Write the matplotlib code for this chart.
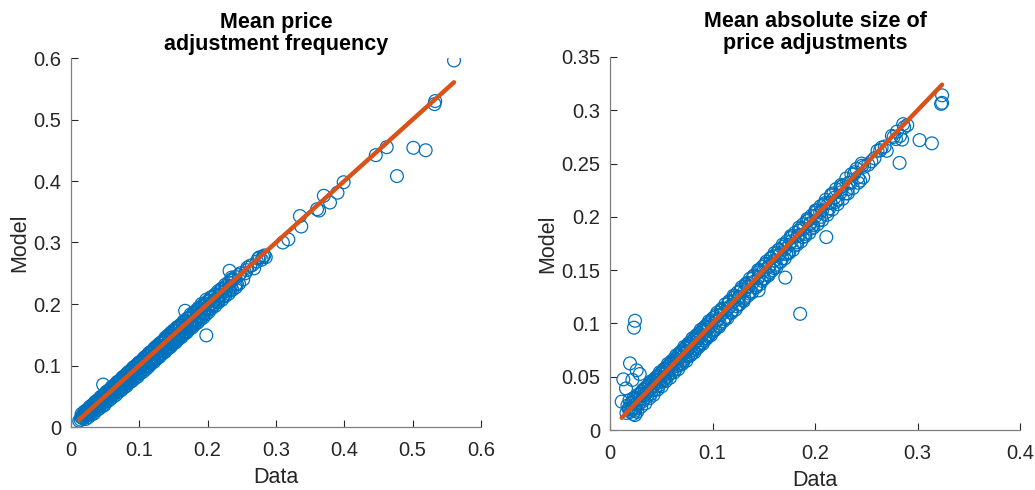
import matplotlib.pyplot as plt
import numpy as np

plt.rcParams['font.family'] = ['Liberation Sans', 'DejaVu Sans']

# Panel 1: mean price adjustment frequency (data, model)
freq_data = [0.012, 0.015, 0.018, 0.020, 0.022, 0.024, 0.026, 0.028, 0.030, 0.032, 0.034, 0.036,
             0.038, 0.040, 0.042, 0.044, 0.046, 0.048, 0.050, 0.052, 0.054, 0.056, 0.058, 0.060,
             0.062, 0.064, 0.066, 0.068, 0.070, 0.072, 0.074, 0.076, 0.078, 0.080, 0.082, 0.084,
             0.086, 0.088, 0.090, 0.092, 0.094, 0.096, 0.098, 0.100, 0.102, 0.104, 0.106, 0.108,
             0.110, 0.112, 0.114, 0.116, 0.118, 0.120, 0.122, 0.124, 0.126, 0.128, 0.130, 0.132,
             0.134, 0.136, 0.138, 0.140, 0.142, 0.144, 0.146, 0.148, 0.150, 0.152, 0.155, 0.157,
             0.160, 0.162, 0.165, 0.167, 0.170, 0.172, 0.175, 0.178, 0.180, 0.183, 0.186, 0.189,
             0.192, 0.195, 0.198, 0.201, 0.205, 0.208, 0.212, 0.216, 0.220, 0.224, 0.228, 0.233,
             0.238, 0.243, 0.248, 0.262, 0.268, 0.279, 0.285,
             0.025, 0.035, 0.045, 0.055, 0.065, 0.075, 0.085, 0.095, 0.105, 0.115, 0.125, 0.135,
             0.145, 0.155, 0.165, 0.175, 0.185, 0.195, 0.210, 0.225,
             0.5605, 0.501, 0.519, 0.477, 0.446, 0.462, 0.533, 0.532, 0.390, 0.399, 0.379, 0.370,
             0.360, 0.363, 0.335, 0.337, 0.310, 0.318, 0.274, 0.281, 0.232, 0.235, 0.252, 0.257,
             0.198, 0.167, 0.191, 0.047]
freq_model = [0.010, 0.016, 0.014, 0.022, 0.019, 0.027, 0.022, 0.030, 0.026, 0.036, 0.029, 0.040,
              0.033, 0.044, 0.036, 0.047, 0.039, 0.035, 0.052, 0.045, 0.058, 0.049, 0.061, 0.052,
              0.065, 0.056, 0.070, 0.059, 0.073, 0.063, 0.078, 0.066, 0.082, 0.070, 0.086, 0.074,
              0.090, 0.078, 0.095, 0.081, 0.099, 0.085, 0.103, 0.089, 0.106, 0.093, 0.111, 0.097,
              0.115, 0.100, 0.120, 0.104, 0.123, 0.108, 0.128, 0.112, 0.132, 0.116, 0.136, 0.119,
              0.139, 0.123, 0.145, 0.127, 0.149, 0.131, 0.153, 0.135, 0.157, 0.139, 0.162, 0.144,
              0.166, 0.149, 0.172, 0.154, 0.176, 0.160, 0.183, 0.165, 0.187, 0.172, 0.193, 0.178,
              0.197, 0.185, 0.207, 0.192, 0.211, 0.199, 0.216, 0.206, 0.224, 0.214, 0.230, 0.222,
              0.240, 0.232, 0.250, 0.262, 0.258, 0.272, 0.276,
              0.025, 0.034, 0.043, 0.054, 0.063, 0.073, 0.083, 0.093, 0.103, 0.112, 0.122, 0.132,
              0.142, 0.151, 0.161, 0.171, 0.181, 0.191, 0.207, 0.221,
              0.596, 0.454, 0.450, 0.408, 0.442, 0.455, 0.530, 0.525, 0.381, 0.398, 0.365, 0.376,
              0.354, 0.352, 0.343, 0.326, 0.300, 0.305, 0.274, 0.277, 0.254, 0.243, 0.240, 0.255,
              0.149, 0.189, 0.200, 0.069]
freq_data_b = [0.014, 0.017, 0.021, 0.023, 0.027, 0.029, 0.031, 0.033, 0.037, 0.039, 0.041, 0.043,
               0.047, 0.049, 0.051, 0.053, 0.057, 0.059, 0.061, 0.063, 0.067, 0.069, 0.071, 0.073,
               0.077, 0.079, 0.081, 0.083, 0.087, 0.089, 0.091, 0.093, 0.097, 0.099, 0.101, 0.103,
               0.107, 0.109, 0.111, 0.113, 0.117, 0.119, 0.121, 0.123, 0.127, 0.129, 0.131, 0.133,
               0.137, 0.139, 0.141, 0.143, 0.147, 0.149, 0.151, 0.153, 0.156, 0.158, 0.161, 0.163,
               0.166, 0.168, 0.171, 0.173, 0.176, 0.179, 0.182, 0.185, 0.188, 0.191, 0.194, 0.197,
               0.200, 0.203, 0.207, 0.210, 0.214, 0.218, 0.222, 0.226, 0.231, 0.236, 0.241, 0.246,
               0.255, 0.258, 0.265, 0.272, 0.276, 0.283]
freq_model_b = [0.012, 0.019, 0.017, 0.024, 0.021, 0.031, 0.024, 0.033, 0.030, 0.041, 0.034, 0.042,
                0.040, 0.050, 0.043, 0.054, 0.050, 0.059, 0.053, 0.064, 0.060, 0.070, 0.062, 0.074,
                0.069, 0.079, 0.072, 0.084, 0.079, 0.090, 0.082, 0.095, 0.088, 0.100, 0.091, 0.105,
                0.098, 0.111, 0.100, 0.115, 0.107, 0.121, 0.110, 0.125, 0.117, 0.131, 0.120, 0.136,
                0.126, 0.141, 0.129, 0.146, 0.136, 0.151, 0.140, 0.156, 0.145, 0.161, 0.150, 0.166,
                0.155, 0.171, 0.161, 0.176, 0.165, 0.181, 0.171, 0.186, 0.177, 0.192, 0.183, 0.198,
                0.190, 0.205, 0.197, 0.212, 0.204, 0.220, 0.212, 0.227, 0.223, 0.238, 0.232, 0.247,
                0.250, 0.259, 0.263, 0.269, 0.276, 0.279]
freq_data_c = [0.016, 0.019, 0.021, 0.023, 0.027, 0.031, 0.033, 0.037, 0.039, 0.043, 0.047, 0.049,
               0.053, 0.057, 0.059, 0.063, 0.067, 0.069, 0.073, 0.077, 0.079, 0.083, 0.087, 0.089,
               0.093, 0.097, 0.099, 0.103, 0.107, 0.109, 0.113, 0.117, 0.119, 0.123, 0.127, 0.129,
               0.133, 0.137, 0.139, 0.143, 0.147, 0.149, 0.153, 0.157, 0.159, 0.163, 0.167, 0.169,
               0.173, 0.177, 0.181, 0.187, 0.193, 0.199, 0.206, 0.213, 0.219, 0.227, 0.234]
freq_model_c = [0.015, 0.018, 0.021, 0.020, 0.026, 0.029, 0.031, 0.036, 0.036, 0.041, 0.045, 0.046,
                0.050, 0.055, 0.056, 0.060, 0.064, 0.066, 0.069, 0.074, 0.075, 0.079, 0.083, 0.085,
                0.089, 0.093, 0.094, 0.098, 0.102, 0.104, 0.108, 0.112, 0.113, 0.118, 0.122, 0.123,
                0.128, 0.131, 0.133, 0.137, 0.142, 0.143, 0.147, 0.151, 0.152, 0.157, 0.161, 0.163,
                0.167, 0.171, 0.175, 0.181, 0.187, 0.194, 0.201, 0.208, 0.215, 0.222, 0.229]
freq_data_d = [0.0155, 0.0195, 0.0235, 0.0275, 0.0315, 0.0355, 0.0395, 0.0435, 0.0475, 0.0515,
               0.0555, 0.0595, 0.0635, 0.0675, 0.0715, 0.0755, 0.0795, 0.0835, 0.0875, 0.0915,
               0.0955, 0.0995, 0.1035, 0.1075, 0.1115, 0.1155, 0.1195, 0.1235, 0.1275, 0.1315,
               0.1355, 0.1395, 0.1435, 0.1475, 0.1515, 0.1555, 0.1595, 0.1635, 0.1675, 0.1715,
               0.1755, 0.1795, 0.1835, 0.1875, 0.1915, 0.1955, 0.2005, 0.2055, 0.2105, 0.2155,
               0.2205, 0.2255, 0.2305, 0.2355, 0.2405]
freq_model_d = [0.021, 0.025, 0.028, 0.033, 0.036, 0.041, 0.044, 0.049, 0.052, 0.057,
                0.060, 0.065, 0.068, 0.073, 0.076, 0.081, 0.084, 0.089, 0.092, 0.097,
                0.100, 0.105, 0.108, 0.113, 0.116, 0.121, 0.124, 0.129, 0.132, 0.137,
                0.140, 0.145, 0.148, 0.153, 0.156, 0.161, 0.164, 0.169, 0.172, 0.177,
                0.180, 0.185, 0.188, 0.193, 0.196, 0.201, 0.205, 0.211, 0.215, 0.221,
                0.225, 0.231, 0.235, 0.240, 0.244]
freq_data_e = [0.0215, 0.0255, 0.0295, 0.0335, 0.0375, 0.0415, 0.0455, 0.0495, 0.0535, 0.0575,
               0.0615, 0.0655, 0.0695, 0.0735, 0.0775, 0.0815, 0.0855, 0.0895, 0.0935, 0.0975,
               0.1015, 0.1055, 0.1095, 0.1135, 0.1175, 0.1215, 0.1255, 0.1295, 0.1335, 0.1375,
               0.1415, 0.1455, 0.1495, 0.1535, 0.1575, 0.1615, 0.1655, 0.1695, 0.1735, 0.1775,
               0.1815, 0.1855, 0.1895, 0.1935, 0.1975, 0.2015, 0.206, 0.211, 0.216, 0.221,
               0.226, 0.231, 0.236, 0.241, 0.246]
freq_model_e = [0.013, 0.016, 0.020, 0.022, 0.027, 0.030, 0.034, 0.037, 0.042, 0.045,
                0.049, 0.052, 0.057, 0.060, 0.064, 0.067, 0.072, 0.075, 0.079, 0.082,
                0.087, 0.090, 0.094, 0.098, 0.103, 0.106, 0.111, 0.114, 0.119, 0.122,
                0.127, 0.130, 0.135, 0.138, 0.143, 0.146, 0.151, 0.154, 0.159, 0.162,
                0.167, 0.170, 0.175, 0.178, 0.183, 0.187, 0.193, 0.197, 0.203, 0.207,
                0.213, 0.217, 0.223, 0.227, 0.233]

# Panel 2: mean absolute size of price adjustments (data, model)
size_data = [0.018, 0.020, 0.022, 0.024, 0.026, 0.028, 0.030, 0.032, 0.034, 0.036, 0.038, 0.040,
             0.042, 0.044, 0.046, 0.048, 0.050, 0.052, 0.054, 0.056, 0.058, 0.060, 0.062, 0.064,
             0.066, 0.068, 0.070, 0.072, 0.074, 0.076, 0.078, 0.080, 0.082, 0.084, 0.086, 0.088,
             0.090, 0.092, 0.094, 0.096, 0.098, 0.100, 0.103, 0.106, 0.109, 0.112, 0.115, 0.118,
             0.121, 0.124, 0.127, 0.130, 0.133, 0.136, 0.139, 0.142, 0.145, 0.148, 0.151, 0.154,
             0.157, 0.160, 0.163, 0.166, 0.169, 0.172, 0.176, 0.180, 0.184, 0.188, 0.192, 0.196,
             0.200, 0.204, 0.208, 0.212, 0.216, 0.220, 0.225, 0.230, 0.235, 0.248, 0.252, 0.258,
             0.265, 0.270, 0.280, 0.283, 0.287,
             0.025, 0.035, 0.045, 0.055, 0.065, 0.075, 0.085, 0.095, 0.105, 0.115, 0.125, 0.135,
             0.145, 0.155, 0.165, 0.175, 0.185, 0.195, 0.205, 0.215, 0.225,
             0.324, 0.324, 0.323, 0.302, 0.314, 0.2825, 0.285, 0.211, 0.1855, 0.171, 0.145,
             0.0244, 0.0234, 0.0195, 0.013, 0.0218, 0.0156, 0.026, 0.029, 0.0114, 0.0244, 0.0244,
             0.239, 0.244, 0.2636, 0.2767, 0.290]
size_model = [0.020, 0.017, 0.026, 0.021, 0.030, 0.024, 0.034, 0.027, 0.038, 0.031, 0.042, 0.034,
              0.045, 0.038, 0.049, 0.042, 0.053, 0.046, 0.057, 0.050, 0.061, 0.054, 0.065, 0.057,
              0.069, 0.061, 0.073, 0.065, 0.077, 0.069, 0.081, 0.072, 0.085, 0.076, 0.089, 0.080,
              0.093, 0.084, 0.097, 0.088, 0.101, 0.092, 0.106, 0.098, 0.112, 0.104, 0.118, 0.110,
              0.124, 0.116, 0.130, 0.122, 0.136, 0.128, 0.142, 0.134, 0.148, 0.140, 0.155, 0.146,
              0.161, 0.152, 0.166, 0.158, 0.172, 0.165, 0.180, 0.173, 0.187, 0.181, 0.196, 0.189,
              0.204, 0.197, 0.211, 0.205, 0.221, 0.214, 0.228, 0.222, 0.232, 0.247, 0.249, 0.255,
              0.265, 0.262, 0.280, 0.276, 0.284,
              0.024, 0.034, 0.044, 0.054, 0.064, 0.074, 0.084, 0.094, 0.103, 0.114, 0.123, 0.134,
              0.143, 0.153, 0.164, 0.174, 0.183, 0.193, 0.204, 0.213, 0.223,
              0.314, 0.307, 0.306, 0.272, 0.269, 0.2506, 0.2725, 0.181, 0.109, 0.143, 0.131,
              0.1025, 0.096, 0.0625, 0.0475, 0.047, 0.039, 0.056, 0.0525, 0.0266, 0.014, 0.018,
              0.242, 0.234, 0.2625, 0.275, 0.286]
size_data_b = [0.017, 0.019, 0.021, 0.023, 0.025, 0.027, 0.029, 0.031, 0.033, 0.035, 0.037, 0.039,
               0.041, 0.043, 0.045, 0.047, 0.049, 0.051, 0.053, 0.055, 0.057, 0.059, 0.061, 0.063,
               0.065, 0.067, 0.069, 0.071, 0.073, 0.075, 0.077, 0.079, 0.081, 0.083, 0.085, 0.087,
               0.089, 0.091, 0.093, 0.095, 0.097, 0.099, 0.101, 0.104, 0.107, 0.110, 0.113, 0.116,
               0.119, 0.122, 0.125, 0.128, 0.131, 0.134, 0.137, 0.140, 0.143, 0.146, 0.149, 0.152,
               0.156, 0.159, 0.162, 0.165, 0.168, 0.171, 0.174, 0.178, 0.182, 0.186, 0.190, 0.194,
               0.198, 0.202, 0.206, 0.210, 0.214, 0.218, 0.222, 0.227, 0.232, 0.238, 0.242, 0.246,
               0.255, 0.261, 0.268, 0.275, 0.279, 0.286]
size_model_b = [0.023, 0.028, 0.019, 0.030, 0.020, 0.033, 0.026, 0.036, 0.029, 0.040, 0.033, 0.044,
                0.037, 0.047, 0.041, 0.051, 0.045, 0.055, 0.048, 0.059, 0.052, 0.063, 0.056, 0.067,
                0.060, 0.071, 0.063, 0.075, 0.067, 0.079, 0.071, 0.083, 0.075, 0.087, 0.079, 0.091,
                0.082, 0.095, 0.086, 0.099, 0.090, 0.103, 0.094, 0.108, 0.100, 0.114, 0.106, 0.120,
                0.112, 0.126, 0.118, 0.132, 0.124, 0.138, 0.130, 0.144, 0.136, 0.150, 0.142, 0.156,
                0.148, 0.163, 0.155, 0.169, 0.161, 0.174, 0.167, 0.182, 0.176, 0.189, 0.184, 0.197,
                0.192, 0.206, 0.200, 0.213, 0.208, 0.222, 0.216, 0.229, 0.226, 0.240, 0.237, 0.248,
                0.252, 0.262, 0.266, 0.276, 0.273, 0.287]
size_data_c = [0.016, 0.019, 0.022, 0.026, 0.029, 0.033, 0.036, 0.039, 0.043, 0.046, 0.049, 0.053,
               0.056, 0.059, 0.063, 0.066, 0.069, 0.073, 0.076, 0.079, 0.083, 0.086, 0.089, 0.093,
               0.096, 0.099, 0.104, 0.108, 0.112, 0.117, 0.121, 0.126, 0.131, 0.135, 0.140, 0.145,
               0.150, 0.155, 0.160, 0.166, 0.171, 0.177, 0.183, 0.189, 0.195, 0.201, 0.207, 0.213,
               0.219, 0.226, 0.233]
size_model_c = [0.016, 0.020, 0.021, 0.025, 0.029, 0.032, 0.036, 0.038, 0.042, 0.046, 0.048, 0.052,
                0.056, 0.058, 0.062, 0.066, 0.068, 0.072, 0.076, 0.078, 0.082, 0.086, 0.088, 0.092,
                0.096, 0.098, 0.103, 0.108, 0.111, 0.116, 0.121, 0.125, 0.130, 0.135, 0.139, 0.144,
                0.150, 0.154, 0.159, 0.166, 0.170, 0.177, 0.182, 0.189, 0.194, 0.201, 0.206, 0.213,
                0.218, 0.226, 0.232]
size_data_d = [0.0205, 0.0245, 0.0285, 0.0325, 0.0365, 0.0405, 0.0445, 0.0485, 0.0525, 0.0565,
               0.0605, 0.0645, 0.0685, 0.0725, 0.0765, 0.0805, 0.0845, 0.0885, 0.0925, 0.0965,
               0.1005, 0.1045, 0.1085, 0.1125, 0.1165, 0.1205, 0.1245, 0.1285, 0.1325, 0.1365,
               0.1405, 0.1445, 0.1485, 0.1525, 0.1565, 0.1605, 0.1645, 0.1685, 0.1725, 0.1765,
               0.1805, 0.1845, 0.1885, 0.1925, 0.1965, 0.2005, 0.2055, 0.2105, 0.2155, 0.2205,
               0.2255, 0.2305, 0.2355, 0.2405, 0.2455]
size_model_d = [0.025, 0.030, 0.033, 0.038, 0.041, 0.046, 0.049, 0.054, 0.057, 0.062,
                0.065, 0.070, 0.073, 0.078, 0.081, 0.086, 0.089, 0.094, 0.097, 0.102,
                0.105, 0.110, 0.113, 0.118, 0.121, 0.126, 0.129, 0.134, 0.137, 0.142,
                0.145, 0.150, 0.153, 0.158, 0.161, 0.166, 0.169, 0.174, 0.177, 0.182,
                0.185, 0.190, 0.193, 0.198, 0.201, 0.206, 0.210, 0.216, 0.220, 0.226,
                0.230, 0.236, 0.240, 0.245, 0.250]
size_data_e = [0.0225, 0.0265, 0.0305, 0.0345, 0.0385, 0.0425, 0.0465, 0.0505, 0.0545, 0.0585,
               0.0625, 0.0665, 0.0705, 0.0745, 0.0785, 0.0825, 0.0865, 0.0905, 0.0945, 0.0985,
               0.1025, 0.1065, 0.1105, 0.1145, 0.1185, 0.1225, 0.1265, 0.1305, 0.1345, 0.1385,
               0.1425, 0.1465, 0.1505, 0.1545, 0.1585, 0.1625, 0.1665, 0.1705, 0.1745, 0.1785,
               0.1825, 0.1865, 0.1905, 0.1945, 0.1985, 0.2025, 0.207, 0.212, 0.217, 0.222,
               0.227, 0.232, 0.237, 0.242, 0.247]
size_model_e = [0.015, 0.017, 0.022, 0.025, 0.030, 0.033, 0.038, 0.041, 0.046, 0.049,
                0.054, 0.057, 0.062, 0.065, 0.070, 0.073, 0.078, 0.081, 0.086, 0.089,
                0.094, 0.097, 0.102, 0.105, 0.110, 0.113, 0.118, 0.121, 0.126, 0.129,
                0.134, 0.137, 0.142, 0.145, 0.150, 0.153, 0.158, 0.161, 0.166, 0.169,
                0.174, 0.177, 0.182, 0.185, 0.190, 0.193, 0.197, 0.202, 0.207, 0.212,
                0.217, 0.222, 0.227, 0.232, 0.237]

titles = ["Mean price\nadjustment frequency", "Mean absolute size of\nprice adjustments"]
blue = '#0072BD'
orange = '#D95319'
dark = '#262626'

fig = plt.figure(figsize=(10.35, 4.9), dpi=100)
ax1 = fig.add_axes([71/1035, 1 - 427/490, 410/1035, 369/490])
ax2 = fig.add_axes([610/1035, 1 - 430/490, 410/1035, 373/490])

freq_x = freq_data + freq_data_b + freq_data_c + freq_data_d + freq_data_e
freq_y = freq_model + freq_model_b + freq_model_c + freq_model_d + freq_model_e
size_x = size_data + size_data_b + size_data_c + size_data_d + size_data_e
size_y = size_model + size_model_b + size_model_c + size_model_d + size_model_e

panels = [(ax1, freq_x, freq_y, 0.6, np.arange(0, 0.61, 0.1), 0.6, np.arange(0, 0.61, 0.1)),
          (ax2, size_x, size_y, 0.4, np.arange(0, 0.41, 0.1), 0.35, np.arange(0, 0.351, 0.05))]

for i, (ax, xd, ym, xmax, xt, ymax, yt) in enumerate(panels):
    ax.scatter(xd, ym, s=85, facecolors='none', edgecolors=blue, linewidths=0.9, zorder=2)
    xs = np.sort(xd)
    ax.plot(xs, xs, color=orange, linewidth=3.2, zorder=3, solid_capstyle='round')
    ax.set_xlim(0, xmax)
    ax.set_ylim(0, ymax)
    ax.set_xticks(xt)
    ax.set_yticks(yt)
    ax.set_xticklabels(['0'] + ['%g' % round(v, 2) for v in xt[1:]])
    ax.set_yticklabels(['0'] + ['%g' % round(v, 2) for v in yt[1:]])
    ax.tick_params(direction='in', length=5, width=0.8, colors=dark, labelsize=14.5)
    ax.tick_params(axis='x', pad=10)
    ax.tick_params(axis='y', pad=7)
    for side in ['top', 'right']:
        ax.spines[side].set_visible(False)
    for side in ['left', 'bottom']:
        ax.spines[side].set_color('#7f7f7f')
        ax.spines[side].set_linewidth(0.9)
    ax.set_xlabel('Data', fontsize=15.5, color=dark, labelpad=5)
    ax.set_ylabel('Model', fontsize=15.5, color=dark, labelpad=2)
    ax.set_title(titles[i], fontsize=15.5, fontweight='bold', color='black', pad=6, linespacing=1.05)

fig.savefig('out.png', dpi=100)
